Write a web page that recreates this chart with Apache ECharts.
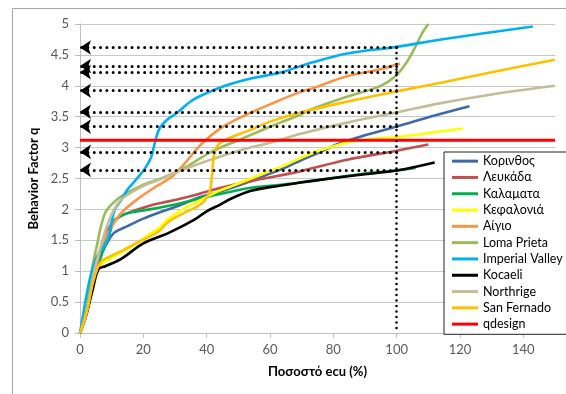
<!DOCTYPE html>
<html>
<head>
<meta charset="utf-8">
<script src="https://cdn.jsdelivr.net/npm/echarts@6/dist/echarts.min.js"></script>
<style>
html,body{margin:0;padding:0;background:#fff;}
#c{width:566px;height:394px;}
</style>
</head>
<body>
<div id="c"></div>
<script>
// ---- data (x = Ποσοστό ecu %, y = q) ----
const korinthos = [[0,0],[2,0.3],[4,0.8],[5.5,1.05],[7,1.3],[9,1.5],[11,1.63],[15,1.73],[20,1.85],[25,1.95],[30,2.04],[34,2.12],[38,2.2],[43,2.27],[48,2.35],[54,2.46],[60,2.58],[65,2.68],[70,2.8],[76,2.93],[82,3.07],[90,3.2],[100,3.34],[112,3.52],[123,3.67]];
const lefkada = [[0,0],[2,0.3],[4,0.8],[5.5,1.1],[7,1.4],[9,1.68],[11,1.82],[14,1.92],[22,2.06],[28,2.13],[34,2.2],[43,2.33],[55,2.47],[69,2.61],[84,2.8],[100,2.95],[110,3.05]];
const kalamata = [[0,0],[2,0.3],[4,0.75],[5.5,1.05],[7,1.3],[9,1.55],[10,1.72],[11,1.83],[13,1.9],[16,1.95],[22,2.0],[30,2.08],[38,2.18],[48,2.29],[54,2.35],[60,2.38],[70,2.44],[80,2.51],[90,2.58],[100,2.63],[106,2.67]];
const kefalonia = [[0,0],[2,0.3],[4,0.7],[5.5,1.0],[7,1.12],[10,1.22],[14,1.33],[18,1.45],[22,1.6],[25,1.7],[27.5,1.83],[30,1.92],[33,2.02],[38,2.15],[43,2.28],[48,2.38],[54,2.5],[60,2.62],[65,2.72],[70,2.84],[75,2.94],[84,3.08],[92,3.14],[100,3.17],[113.6,3.26],[121,3.31]];
const aigio = [[0,0],[2,0.3],[3.5,0.7],[5,1.05],[6.5,1.35],[8,1.55],[10,1.72],[13,1.94],[18,2.16],[24,2.37],[29,2.53],[33,2.74],[38,3.04],[44,3.3],[52,3.52],[60,3.7],[69,3.89],[74,3.97],[84,4.15],[95,4.27],[101,4.36]];
const lomaPrieta = [[0,0],[2,0.35],[3,0.75],[4.2,1.15],[5.5,1.45],[6.5,1.7],[8,1.95],[10,2.08],[13,2.21],[20,2.4],[27,2.53],[34,2.7],[41,2.92],[50,3.12],[56,3.25],[63,3.4],[69,3.52],[73.5,3.63],[84,3.82],[94.6,3.99],[99.5,4.15],[103,4.37],[106,4.64],[108,4.85],[110,5.0]];
const imperialValley = [[0,0],[1,0.3],[2,0.6],[3,0.85],[4,1.05],[5.5,1.25],[7.5,1.4],[9,1.55],[10,1.8],[11,2.0],[13,2.15],[15,2.32],[18,2.5],[20.5,2.66],[22.5,2.85],[23.5,3.05],[25,3.3],[27.5,3.45],[30.6,3.56],[35,3.75],[39,3.86],[47,4.02],[55,4.13],[63,4.21],[73.5,4.38],[84,4.52],[100,4.63],[114,4.75],[143,4.96]];
const kocaeli = [[0,0],[2,0.3],[4,0.7],[5.8,1.03],[8,1.08],[13,1.2],[20,1.45],[28,1.62],[36,1.83],[40,1.97],[44,2.07],[48,2.18],[54,2.3],[60,2.36],[69,2.43],[79,2.5],[90,2.57],[100,2.63],[112,2.76]];
const northrige = [[0,0],[2,0.3],[4.5,1.0],[6,1.3],[8,1.65],[10,1.92],[12,2.1],[14,2.2],[20,2.38],[25,2.48],[31.5,2.62],[41,2.8],[51.5,2.97],[60,3.08],[69.4,3.22],[84,3.4],[100,3.57],[114,3.72],[130,3.86],[150,4.0]];
const sanFernado = [[0,0],[2.5,0.43],[4,0.8],[5.7,1.07],[7,1.17],[10,1.25],[14,1.35],[18,1.46],[22,1.56],[25,1.65],[28,1.8],[32,1.92],[36,2.02],[39,2.12],[41,2.3],[41.6,2.5],[42,2.75],[42.8,2.97],[44.2,3.07],[47.3,3.16],[53,3.27],[60,3.42],[69,3.56],[84,3.74],[100,3.91],[114,4.05],[130,4.22],[150,4.42]];
const qdesign = [[0,3.12],[150,3.12]];
const arrowLevels = [4.62, 4.32, 4.22, 3.92, 3.58, 3.34, 2.93, 2.64];
const arrowFromX = 100;

const seriesNames = ['Κορινθος','Λευκάδα','Καλαματα','Κεφαλονιά','Αίγιο','Loma Prieta','Imperial Valley','Kocaeli','Northrige','San Fernado','qdesign'];
const seriesData = [korinthos, lefkada, kalamata, kefalonia, aigio, lomaPrieta, imperialValley, kocaeli, northrige, sanFernado, qdesign];
const seriesColors = ['#3F6AA8','#C0504D','#00B050','#FFFF00','#F79646','#9BBB59','#00B0F0','#000000','#C4BD97','#FFC000','#FF0000'];
const yTicks = {min:0, max:5, interval:0.5};
const xTicks = {min:0, max:150, interval:20};

const font = 'Lato, "Noto Sans", sans-serif';
const chart = echarts.init(document.getElementById('c'), null, {renderer:'canvas'});

const lineSeries = seriesNames.map((n,i)=>({
  name:n, type:'line', data:seriesData[i], showSymbol:false, symbol:'none',
  smooth: i===10 ? false : 0.35,
  lineStyle:{color:seriesColors[i], width: i===10 ? 3 : 2.6},
  itemStyle:{color:seriesColors[i]},
  z: 2 + i*0.01
}));

const arrowSeries = {
  type:'lines', coordinateSystem:'cartesian2d', silent:true, z:6,
  symbol:['none','arrow'], symbolSize:11,
  lineStyle:{color:'#000', width:3, type:[0,6.3], cap:'round', opacity:1},
  itemStyle:{color:'#000'},
  data: arrowLevels.map(q=>({coords:[[arrowFromX,q],[0,q]]}))
};
const vSeries = {
  type:'lines', coordinateSystem:'cartesian2d', silent:true, z:6,
  symbol:['none','none'],
  lineStyle:{color:'#000', width:2.6, type:[0,5.5], cap:'round', opacity:1},
  data:[{coords:[[arrowFromX,arrowLevels[0]],[arrowFromX,0]]}]
};

chart.setOption({
  animation:false,
  backgroundColor:'#fff',
  graphic:[{type:'rect', silent:true, z:-10, shape:{x:12.5,y:8.5,width:700,height:500}, style:{fill:'none', stroke:'#A6A6A6', lineWidth:1}}],
  grid:{left:80, right:11, top:24, bottom:61},
  xAxis:{type:'value', min:xTicks.min, max:xTicks.max, interval:xTicks.interval,
    name:'Ποσοστό ecu (%)', nameLocation:'middle', nameGap:32,
    nameTextStyle:{fontFamily:font, fontWeight:'bold', fontSize:13, color:'#000'},
    axisLine:{show:true, lineStyle:{color:'#BFBFBF', width:1}},
    axisTick:{show:true, length:5, lineStyle:{color:'#BFBFBF'}},
    axisLabel:{fontFamily:font, fontSize:13, color:'#595959', margin:10, showMaxLabel:false},
    splitLine:{show:false}},
  yAxis:{type:'value', min:yTicks.min, max:yTicks.max, interval:yTicks.interval,
    name:'Behavior Factor q', nameLocation:'middle', nameGap:24,
    nameTextStyle:{fontFamily:font, fontWeight:'bold', fontSize:13, color:'#000'},
    axisLine:{show:true, lineStyle:{color:'#BFBFBF', width:1}},
    axisTick:{show:true, length:5, lineStyle:{color:'#BFBFBF'}},
    axisLabel:{fontFamily:font, fontSize:13, color:'#595959', margin:11},
    splitLine:{show:true, lineStyle:{color:'#C8C8C8', width:1}}},
  legend:{
    data:seriesNames, orient:'vertical', left:444, top:152,
    padding:[1,40,2,8], itemGap:0, itemWidth:26, itemHeight:3, icon:'rect',
    backgroundColor:'#fff', borderColor:'#222', borderWidth:1,
    textStyle:{fontFamily:font, fontSize:12.5, color:'#000', lineHeight:16.3}
  },
  series: lineSeries.concat([arrowSeries, vSeries])
});
</script>
</body>
</html>
